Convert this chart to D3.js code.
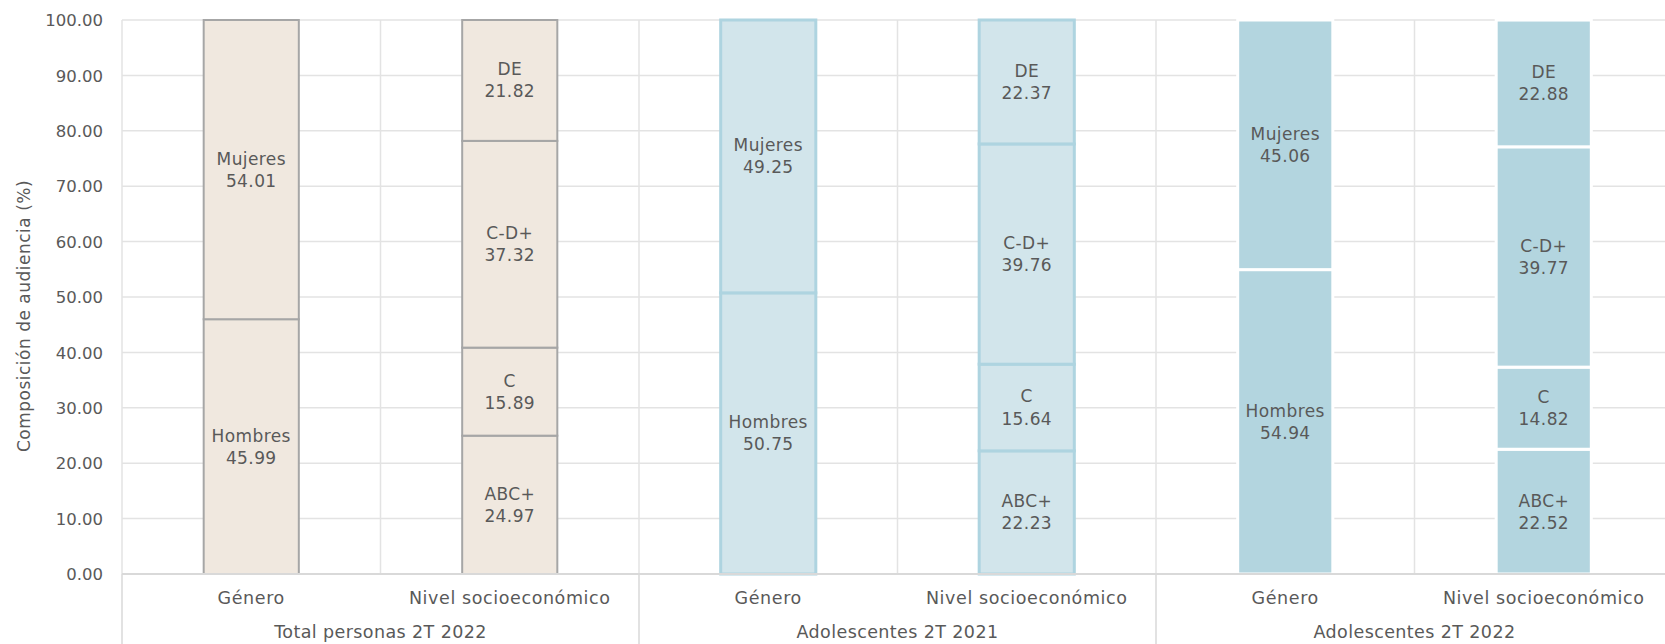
<!DOCTYPE html>
<html>
<head>
<meta charset="utf-8">
<script src="https://cdn.jsdelivr.net/npm/d3@7"></script>
<style>
  html, body { margin: 0; padding: 0; background: #fff; }
  svg text { font-family: "DejaVu Sans", "Noto Sans", sans-serif; fill: #595959; }
</style>
</head>
<body>
<svg id="chart" width="1665" height="644"></svg>
<script>
// Audience composition by gender and socioeconomic level
const groups = ["Total personas 2T 2022", "Adolescentes 2T 2021", "Adolescentes 2T 2022"];
const breakdowns = ["Género", "Nivel socioeconómico"];

const genderLabels = ["Hombres", "Mujeres"];
const nseLabels = ["ABC+", "C", "C-D+", "DE"];

const genderValues = [
  [45.99, 54.01],
  [50.75, 49.25],
  [54.94, 45.06]
];
const nseValues = [
  [24.97, 15.89, 37.32, 21.82],
  [22.23, 15.64, 39.76, 22.37],
  [22.52, 14.82, 39.77, 22.88]
];

const yTicks = [0, 10, 20, 30, 40, 50, 60, 70, 80, 90, 100];

const groupStyles = [
  { fill: "#f0e8df", stroke: "#a6a6a6", width: 2 },
  { fill: "#d2e5eb", stroke: "#aed4e0", width: 3 },
  { fill: "#b3d5df", stroke: "#ffffff", width: 3 }
];

const svg = d3.select("#chart");
const margin = { left: 122, top: 20, bottom: 574, right: 1673 };

// one slot per group/breakdown pair
const slots = [];
groups.forEach((g, gi) => breakdowns.forEach((b, bi) => slots.push({ g, gi, b, bi, key: gi + "|" + bi })));

const x = d3.scaleBand().domain(slots.map(s => s.key)).range([margin.left, margin.right]).padding(0);
const xGroup = d3.scaleBand().domain(groups).range([margin.left, margin.right]).padding(0);
const y = d3.scaleLinear().domain([0, 100]).range([margin.bottom, margin.top]);

const gridColor = "#e3e3e3";

// horizontal gridlines
svg.append("g").selectAll("line").data(yTicks.filter(t => t > 0)).join("line")
  .attr("x1", margin.left).attr("x2", margin.right)
  .attr("y1", d => y(d)).attr("y2", d => y(d))
  .attr("stroke", gridColor).attr("stroke-width", 1.5);

// vertical separators inside the plot
svg.append("g").selectAll("line").data(slots.map(s => x(s.key))).join("line")
  .attr("x1", d => d).attr("x2", d => d)
  .attr("y1", margin.top).attr("y2", margin.bottom)
  .attr("stroke", gridColor).attr("stroke-width", 1.5);

// group separators extending through the category label area
svg.append("g").selectAll("line").data(groups.map(g => xGroup(g))).join("line")
  .attr("x1", d => d).attr("x2", d => d)
  .attr("y1", margin.bottom).attr("y2", 644)
  .attr("stroke", "#d9d9d9").attr("stroke-width", 1.5);

// y axis tick labels
const yAxis = d3.axisLeft(y).tickValues(yTicks).tickFormat(d3.format(".2f")).tickSize(0).tickPadding(19);
const yAxisG = svg.append("g").attr("transform", `translate(${margin.left},0)`).call(yAxis);
yAxisG.attr("font-family", null).attr("font-size", null);
yAxisG.select(".domain").remove();
yAxisG.selectAll("text").style("font-size", "16.5px").attr("fill", "#595959").attr("dy", "0.35em");

// y axis title
svg.append("text")
  .attr("transform", `translate(30,316) rotate(-90)`)
  .attr("text-anchor", "middle")
  .style("font-size", "17px")
  .style("letter-spacing", "0.5px")
  .text("Composición de audiencia (%)");

// stacked segments
const barW = x.bandwidth() * 0.368;
const segs = [];
slots.forEach(s => {
  const labels = s.bi === 0 ? genderLabels : nseLabels;
  const vals = s.bi === 0 ? genderValues[s.gi] : nseValues[s.gi];
  let acc = 0;
  vals.forEach((v, i) => {
    segs.push({ slot: s, label: labels[i], value: v, y0: acc, y1: acc + v });
    acc += v;
  });
});

const barG = svg.append("g");
barG.selectAll("rect").data(segs).join("rect")
  .attr("x", d => x(d.slot.key) + (x.bandwidth() - barW) / 2)
  .attr("width", barW)
  .attr("y", d => y(d.y1))
  .attr("height", d => y(d.y0) - y(d.y1))
  .attr("fill", d => groupStyles[d.slot.gi].fill)
  .attr("stroke", d => groupStyles[d.slot.gi].stroke)
  .attr("stroke-width", d => groupStyles[d.slot.gi].width);

// segment labels: category name and value
const cx = d => x(d.slot.key) + x.bandwidth() / 2;
const lab = svg.append("g").selectAll("text").data(segs).join("text")
  .attr("text-anchor", "middle")
  .attr("x", cx)
  .attr("y", d => y((d.y0 + d.y1) / 2))
  .style("font-size", "17px")
  .style("letter-spacing", "0.4px");
lab.append("tspan").attr("x", cx).attr("dy", "-0.3em").text(d => d.label);
lab.append("tspan").attr("x", cx).attr("dy", "1.3em").text(d => d.value.toFixed(2));

// baseline
svg.append("line")
  .attr("x1", margin.left).attr("x2", margin.right)
  .attr("y1", y(0)).attr("y2", y(0))
  .attr("stroke", "#d9d9d9").attr("stroke-width", 2);

// category labels
svg.append("g").selectAll("text").data(slots).join("text")
  .attr("x", d => x(d.key) + x.bandwidth() / 2)
  .attr("y", 604)
  .attr("text-anchor", "middle")
  .style("font-size", "17.5px")
  .style("letter-spacing", "0.6px")
  .text(d => d.b);

// group labels
svg.append("g").selectAll("text").data(groups).join("text")
  .attr("x", d => xGroup(d) + xGroup.bandwidth() / 2)
  .attr("y", 638)
  .attr("text-anchor", "middle")
  .style("font-size", "17.5px")
  .style("letter-spacing", "0.4px")
  .text(d => d);
</script>
</body>
</html>
